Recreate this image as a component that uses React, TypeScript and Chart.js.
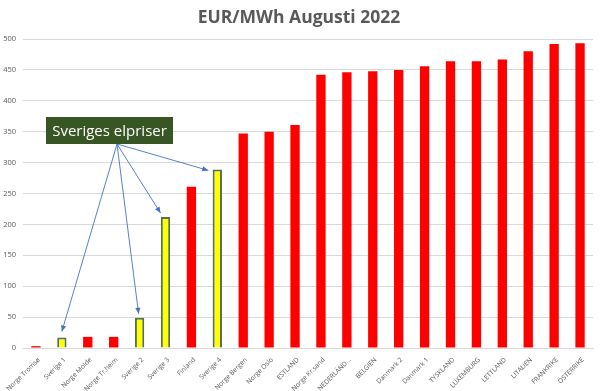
import React, { useEffect, useRef } from "react";
import { Chart, registerables } from "chart.js";
Chart.register(...registerables);

const categories = [
  "Norge Tromsø", "Sverige 1", "Norge Molde", "Norge Tr.heim", "Sverige 2", "Sverige 3",
  "Finland", "Sverige 4", "Norge Bergen", "Norge Oslo", "ESTLAND", "Norge Kr.sand",
  "NEDERLÄND...", "BELGIEN", "Danmark 2", "Danmark 1", "TYSKLAND", "LUXEMBURG",
  "LETTLAND", "LITAUEN", "FRANKRIKE", "ÖSTERRIKE",
];
const prices = [3, 17, 18, 18, 49, 212, 261, 289, 347, 350, 361, 442, 446, 448, 450, 456, 464, 464, 467, 480, 492, 493];
const swedishIdx = [1, 4, 5, 7];
const yTicks = [0, 50, 100, 150, 200, 250, 300, 350, 400, 450, 500];
const titleText = "EUR/MWh Augusti 2022";
const calloutText = "Sveriges elpriser";

const isSwe = (i: number) => swedishIdx.includes(i);

const overlay = {
  id: "overlay",
  afterDraw(chart: any) {
    const ctx = chart.ctx;
    ctx.save();
    // title
    ctx.fillStyle = "#595959";
    ctx.font = "bold 17.5px 'Open Sans', sans-serif";
    ctx.textAlign = "center";
    ctx.textBaseline = "middle";
    ctx.fillText(titleText, 299, 18);
    // callout box
    const bx = 46, by = 117, bw = 127, bh = 27;
    ctx.fillStyle = "#375623";
    ctx.fillRect(bx, by, bw, bh);
    ctx.fillStyle = "#ffffff";
    ctx.font = "15px 'Open Sans', sans-serif";
    ctx.textAlign = "center";
    ctx.fillText(calloutText, bx + bw / 2, by + bh / 2 + 1);
    // arrows
    const meta = chart.getDatasetMeta(0);
    const ox = 117, oy = 144;
    const offs: Record<number, [number, number]> = { 1: [0, -6], 4: [-1, -4], 5: [-5, -4], 7: [-9, 1] };
    ctx.strokeStyle = "#4472C4";
    ctx.fillStyle = "#4472C4";
    ctx.lineWidth = 0.9;
    swedishIdx.forEach((i) => {
      const el = meta.data[i];
      const [dx, dy] = offs[i];
      const ex = el.x + dx, ey = el.y + dy;
      ctx.beginPath();
      ctx.moveTo(ox, oy);
      ctx.lineTo(ex, ey);
      ctx.stroke();
      const ang = Math.atan2(ey - oy, ex - ox);
      const L = 6, W = 2.6;
      ctx.beginPath();
      ctx.moveTo(ex, ey);
      ctx.lineTo(ex - L * Math.cos(ang) + W * Math.sin(ang), ey - L * Math.sin(ang) - W * Math.cos(ang));
      ctx.lineTo(ex - L * Math.cos(ang) - W * Math.sin(ang), ey - L * Math.sin(ang) + W * Math.cos(ang));
      ctx.closePath();
      ctx.fill();
    });
    ctx.restore();
  },
};

export default function App() {
  const ref = useRef<HTMLCanvasElement>(null);
  useEffect(() => {
    document.body.style.margin = "0";
    const chart = new Chart(ref.current!, {
      type: "bar",
      data: {
        labels: categories,
        datasets: [
          {
            data: prices,
            backgroundColor: prices.map((_, i) => (isSwe(i) ? "#FFFF00" : "#FF0000")),
            borderColor: prices.map((_, i) => (isSwe(i) ? "#55704F" : "#FF0000")),
            borderWidth: prices.map((_, i) => (isSwe(i) ? 2 : 0)),
            categoryPercentage: 1,
            barPercentage: 0.36,
          },
        ],
      },
      options: {
        animation: false,
        responsive: false,
        layout: { padding: { top: 39, right: 7, left: 0, bottom: 0 } },
        plugins: { legend: { display: false }, title: { display: false }, tooltip: { enabled: false } },
        scales: {
          x: {
            grid: { display: false },
            border: { color: "#d9d9d9" },
            ticks: {
              color: "#595959",
              font: { size: 6.6, family: "'Open Sans', sans-serif" },
              maxRotation: 45,
              minRotation: 45,
              autoSkip: false,
              padding: 0,
              labelOffset: 3,
            },
            afterFit: (s: any) => { s.height = 43; s.paddingLeft = 0; },
          },
          y: {
            min: 0,
            max: 500,
            afterBuildTicks: (s: any) => { s.ticks = yTicks.map((v) => ({ value: v })); },
            grid: { color: "#d9d9d9", drawTicks: false },
            border: { display: false },
            ticks: {
              color: "#595959",
              font: { size: 7.5, family: "'Open Sans', sans-serif" },
              padding: 7,
            },
            afterFit: (s: any) => { s.width = 23; },
          },
        },
      },
      plugins: [overlay],
    });
    return () => chart.destroy();
  }, []);
  return (
    <div style={{ position: "absolute", left: 0, top: 0, width: 600, height: 391, background: "#fff" }}>
      <canvas ref={ref} width={600} height={391} />
    </div>
  );
}
